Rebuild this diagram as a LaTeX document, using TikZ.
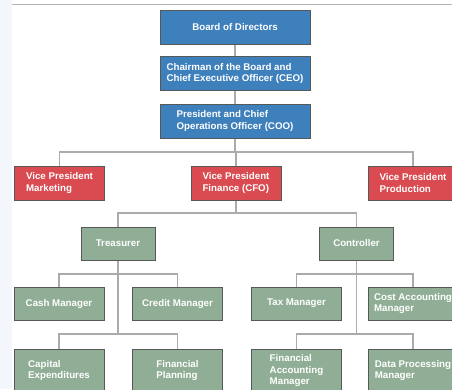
\documentclass[tikz,border=0pt]{standalone}
\usepackage{fontspec}
\setmainfont{Liberation Sans}
\definecolor{bluebox}{HTML}{3E80BC}
\definecolor{redbox}{HTML}{D94B50}
\definecolor{greenbox}{HTML}{8FAE95}
\definecolor{boxline}{HTML}{555A58}
\definecolor{conn}{HTML}{ABABAB}
\definecolor{stripc}{HTML}{F3F7FB}
\definecolor{topline}{HTML}{B4B4B4}
\tikzset{
  box/.style={draw=boxline, line width=0.75pt, text=white, inner sep=0pt,
    font=\fontsize{7.3}{8.3}\selectfont\bfseries, align=left},
  topbox/.style={box, fill=bluebox, minimum width=112.5pt, minimum height=25.5pt},
  vpbox/.style={box, fill=redbox, minimum width=67.5pt, minimum height=25.5pt},
  midbox/.style={box, fill=greenbox, minimum width=55.5pt, minimum height=24.75pt},
  lowbox/.style={box, fill=greenbox, minimum width=67.5pt, minimum height=24.75pt},
  basebox/.style={box, fill=greenbox, minimum width=67.5pt, minimum height=32.25pt},
  wire/.style={draw=conn, line width=1pt}
}
\begin{document}
\begin{tikzpicture}[x=0.75pt,y=-0.75pt]
\useasboundingbox (0,0) rectangle (452,389);
\clip (0,0) rectangle (452,389);
\fill[white] (0,0) rectangle (452,389);
\fill[stripc] (0,0) rectangle (12,389);
\draw[topline, line width=0.6pt] (12,4) -- (452,4);

% bus junctions
\coordinate (b1) at (235,152);
\coordinate (b2) at (236,213);
\coordinate (t1) at (118,274);
\coordinate (t2) at (118,334);
\coordinate (c1) at (356.5,274);
\coordinate (c2) at (356.5,334);

% nodes
\node[topbox] (board) at (235,27) {Board of Directors};
\node[topbox] (ceo) at (235,73.5) {Chairman of the Board and\\Chief Executive Officer (CEO)};
\node[topbox] (coo) at (235,121) {President and Chief\\Operations Officer (COO)};
\node[vpbox] (vpm) at (59.5,183) {Vice President\\Marketing};
\node[vpbox] (vpf) at (236,183) {Vice President\\Finance (CFO)};
\node[vpbox] (vpp) at (413,183) {Vice President\\Production};
\node[midbox] (tre) at (118,243.5) {Treasurer};
\node[midbox] (con) at (356.5,243.5) {Controller};
\node[lowbox] (cash) at (59,303.5) {Cash Manager};
\node[lowbox] (credit) at (177.5,303.5) {Credit Manager};
\node[lowbox] (tax) at (296.5,303.5) {Tax Manager};
\node[lowbox] (cost) at (413,303.5) {Cost Accounting\\Manager};
\node[basebox] (capex) at (59,370.5) {Capital\\Expenditures};
\node[basebox] (plan) at (177.5,370.5) {Financial\\Planning};
\node[basebox] (fam) at (296.5,370.5) {Financial\\Accounting\\Manager};
\node[basebox] (dpm) at (413,370.5) {Data Processing\\Manager};

% connectors
\draw[wire] (board.south) -- (ceo.north);
\draw[wire] (ceo.south) -- (coo.north);
\draw[wire] (coo.south) -- (b1);
\draw[wire] (vpm.north) |- (b1) -| (vpp.north);
\draw[wire] (b1) -| (vpf.north);
\draw[wire] (vpf.south) -- (b2);
\draw[wire] (tre.north) |- (b2) -| (con.north);
\draw[wire] (tre.south) -- (t2);
\draw[wire] (cash.north) |- (t1) -| (credit.north);
\draw[wire] (capex.north) |- (t2) -| (plan.north);
\draw[wire] (con.south) -- (c2);
\draw[wire] (tax.north) |- (c1) -| (cost.north);
\draw[wire] (fam.north) |- (c2) -| (dpm.north);
\end{tikzpicture}
\end{document}
